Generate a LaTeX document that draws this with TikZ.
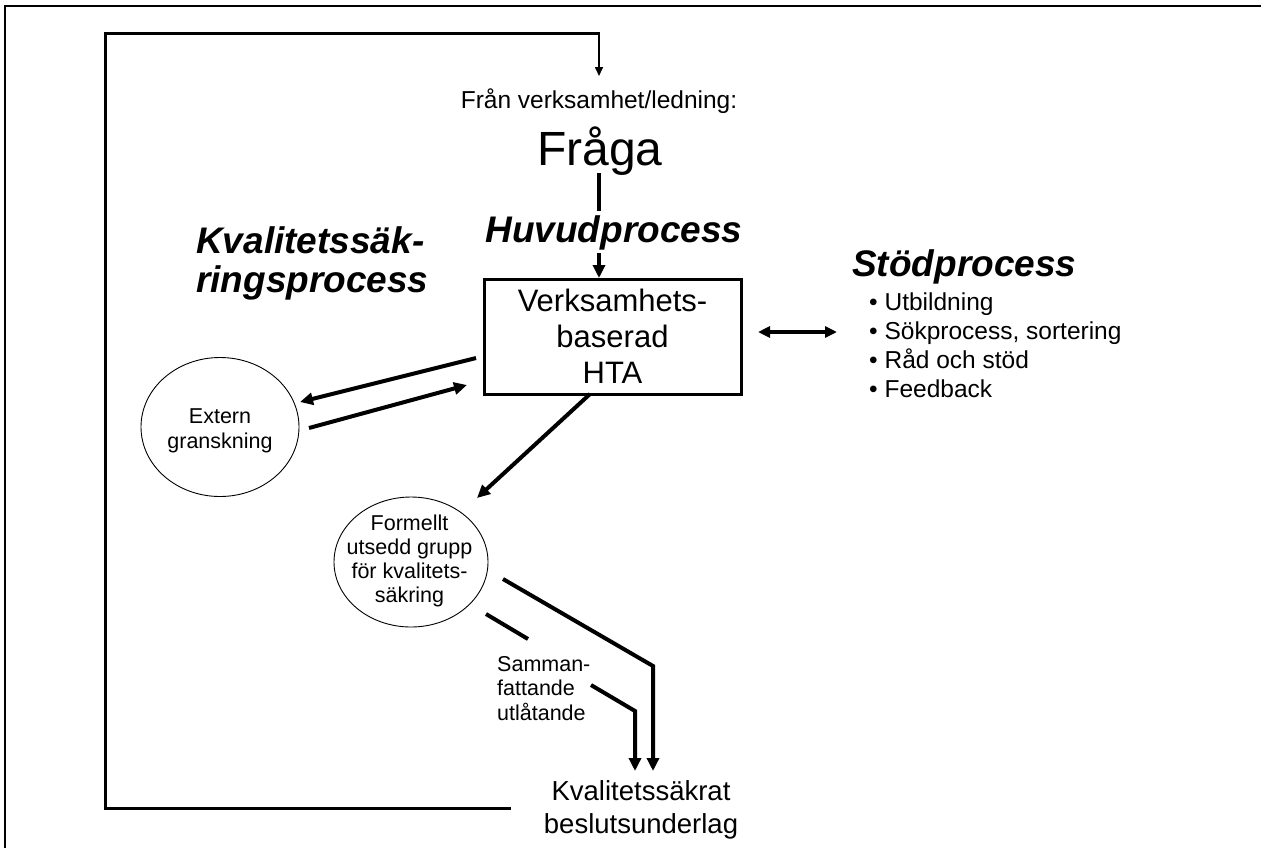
\documentclass[tikz,border=0pt]{standalone}
\usepackage{fontspec}
\setmainfont{Liberation Sans}
\usetikzlibrary{arrows.meta,shapes.geometric}
\begin{document}
\begin{tikzpicture}[x=1pt,y=-1pt,
  frameline/.style={line width=2pt},
  loopline/.style={line width=3pt},
  thinarrow/.style={line width=1.6pt,-{Triangle[length=9pt,width=8pt]}},
  thickline/.style={line width=4pt},
  thickarrow/.style={line width=4pt,-{Triangle[length=13pt,width=12pt]}},
  dblarrow/.style={line width=4pt,{Triangle[length=12pt,width=11pt]}-{Triangle[length=12pt,width=11pt]}},
  ell/.style={draw,ellipse,line width=0.9pt,inner sep=0pt},
  hbox/.style={draw,line width=3pt,inner sep=0pt,align=center,font=\fontsize{31}{36}\selectfont},
  small/.style={inner sep=0pt,font=\fontsize{21.5}{24.5}\selectfont},
  mid/.style={inner sep=0pt,font=\fontsize{24.5}{29}\selectfont},
  title/.style={inner sep=0pt,font=\fontsize{37}{38.5}\selectfont\bfseries\itshape}
]
\useasboundingbox (0,0) rectangle (1261,847);
\fill[white] (0,0) rectangle (1261,847);

% outer frame
\draw[frameline] (1262,6) -- (5,6) -- (5,848);

% texts (multi-line nodes: base anchor = baseline of last line)
\node[mid,anchor=base] (fran) at (599,108) {Från verksamhet/ledning:};
\node[inner sep=0pt,anchor=base,font=\fontsize{48}{50}\selectfont] (fraga) at (600,165) {Fråga};
\node[title,anchor=base] (huvud) at (614,242) {Huvudprocess};
\node[title,anchor=base west,align=left] (kval) at (196,292) {Kvalitetssäk-\\ringsprocess};
\node[title,anchor=base west] (stod) at (852,276) {Stödprocess};
\node[mid,anchor=base west,align=left] (bullets) at (869,397) {• Utbildning\\• Sökprocess, sortering\\• Råd och stöd\\• Feedback};

% main box
\node[hbox,minimum width=257pt,minimum height=115pt] (hta) at (612.5,336.5) {Verksamhets-\\baserad\\HTA};

% ellipses
\node[ell,minimum width=158pt,minimum height=139pt] (ext) at (220,427) {};
\node[small,anchor=base,align=center] (extT) at (220,448) {Extern\\granskning};
\node[ell,minimum width=154pt,minimum height=130pt] (fg) at (411,562) {};
\node[small,anchor=base,align=center,font=\fontsize{21.5}{24}\selectfont] (fgT) at (409.5,602) {Formellt\\utsedd grupp\\för kvalitets-\\säkring};

% bottom texts
\node[small,anchor=base west,align=left] (samman) at (497,720) {Samman-\\fattande\\utlåtande};
\node[inner sep=0pt,anchor=base,align=center,font=\fontsize{27.5}{33}\selectfont] (result) at (641,833) {Kvalitetssäkrat\\beslutsunderlag};

% coordinates
\coordinate (loopEnd) at (511,808);
\coordinate (loopBL) at (105,808);
\coordinate (loopTL) at (105,33);
\coordinate (loopTR) at (599,33);
\coordinate (franTop) at (599,76);
\coordinate (fragaBot) at (599,173);
\coordinate (huvudTop) at (599,211);
\coordinate (huvudBot) at (599,253);
\coordinate (htaIn) at (599,278);
\coordinate (h2eS) at (476,358);
\coordinate (h2eT) at (300,402);
\coordinate (e2hS) at (309,428);
\coordinate (e2hT) at (467,385);
\coordinate (h2fS) at (590,394);
\coordinate (h2fT) at (477,498);
\coordinate (sA) at (503,579);
\coordinate (kA) at (653,666);
\coordinate (tA) at (653,771);
\coordinate (sB) at (486,614);
\coordinate (eB) at (528,639);
\coordinate (sC) at (591,685);
\coordinate (kC) at (635,711);
\coordinate (tC) at (635,771);
\coordinate (dS) at (758,332);
\coordinate (dE) at (837,332);

% feedback loop
\draw[loopline] (loopEnd) -- (loopBL) -- (loopTL) -- ([xshift=0.8pt]loopTR);
\draw[thinarrow] (loopTR) -- (franTop);

% main process
\draw[thickline] (fragaBot) -- (huvudTop);
\draw[thickarrow] (huvudBot) -- (htaIn);

% box <-> extern
\draw[thickarrow] (h2eS) -- (h2eT);
\draw[thickarrow] (e2hS) -- (e2hT);
% box -> formellt
\draw[thickarrow] (h2fS) -- (h2fT);

% formellt -> result
\draw[thickline,-{Triangle[length=13pt,width=12pt]}] (sA) -- (kA) -- (tA);
\draw[thickline] (sB) -- (eB);
\draw[thickline,-{Triangle[length=13pt,width=12pt]}] (sC) -- (kC) -- (tC);

% support
\draw[dblarrow] (dS) -- (dE);
\end{tikzpicture}
\end{document}
